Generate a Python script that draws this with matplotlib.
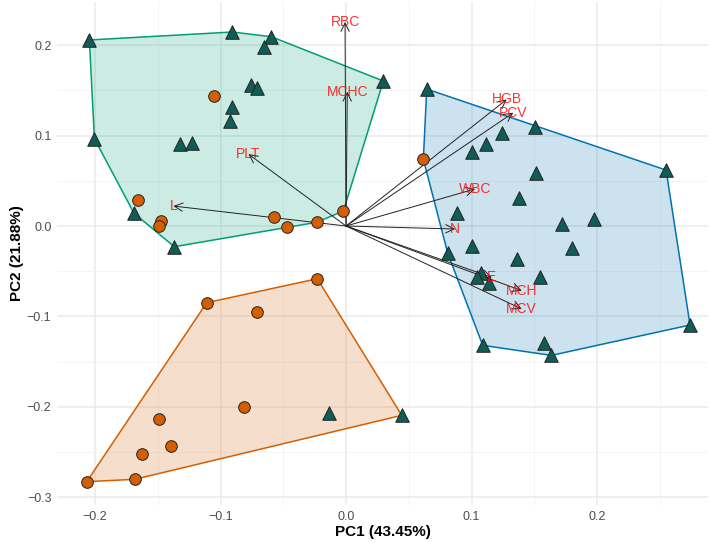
import numpy as np
import matplotlib.pyplot as plt

# PCA scores
pc1 = [-0.2045, -0.0906, -0.0595, -0.0651, 0.0297, -0.0755, -0.0712, -0.0908, -0.0927,
       -0.2005, -0.1320, -0.1225, -0.1689, -0.1368,
       -0.1054, -0.1660, -0.1472, -0.1493, -0.0571, -0.0473, -0.0234, -0.0021,
       0.0643, 0.1506, 0.1243, 0.1118, 0.1004, 0.1514, 0.2550, 0.1381, 0.0884, 0.1721,
       0.1976, 0.1800, 0.1007, 0.0810, 0.1363, 0.1078, 0.1041, 0.1139, 0.1546, 0.2741,
       0.1089, 0.1575, 0.1636,
       0.0616,
       -0.2066, -0.1684, -0.1628, -0.1392, -0.1493, -0.0813, -0.1110, -0.0707, -0.0229,
       -0.0135, 0.0444]
pc2 = [0.2058, 0.2146, 0.2094, 0.1983, 0.1604, 0.1563, 0.1527, 0.1313, 0.1165,
       0.0966, 0.0907, 0.0922, 0.0140, -0.0229,
       0.1435, 0.0284, 0.0059, 0.0000, 0.0103, -0.0011, 0.0041, 0.0166,
       0.1515, 0.1092, 0.1032, 0.0910, 0.0815, 0.0583, 0.0619, 0.0313, 0.0140, 0.0025,
       0.0081, -0.0247, -0.0218, -0.0299, -0.0369, -0.0520, -0.0568, -0.0627, -0.0561, -0.1095,
       -0.1320, -0.1291, -0.1431,
       0.0738,
       -0.2828, -0.2802, -0.2522, -0.2430, -0.2135, -0.1999, -0.0848, -0.0948, -0.0583,
       -0.2065, -0.2094]
group = (['tri'] * 14 + ['circ'] * 8 + ['tri'] * 23 + ['circ'] * 1
         + ['circ'] * 9 + ['tri'] * 2)
cluster = [1] * 22 + [2] * 24 + [3] * 11

# loadings (arrow tips)
var_names = ['RBC', 'MCHC', 'PLT', 'L', 'HGB', 'PCV', 'WBC', 'N', 'E', 'MCH', 'MCV']
load1 = [-0.0008, 0.0010, -0.0778, -0.1376, 0.1280, 0.1333, 0.1028, 0.0869, 0.1161, 0.1400, 0.1400]
load2 = [0.2257, 0.1486, 0.0796, 0.0221, 0.1400, 0.1254, 0.0410, -0.0033, -0.0568, -0.0715, -0.0918]

hull_colors = {1: '#009E73', 2: '#0072B2', 3: '#D55E00'}
point_style = {'tri': ('^', '#0F5D56', 95), 'circ': ('o', '#D55E00', 70)}

pc1 = np.array(pc1)
pc2 = np.array(pc2)
group = np.array(group)
cluster = np.array(cluster)


def convex_hull(pts):
    pts = sorted(map(tuple, pts))

    def cross(o, a, b):
        return (a[0] - o[0]) * (b[1] - o[1]) - (a[1] - o[1]) * (b[0] - o[0])
    lower, upper = [], []
    for p in pts:
        while len(lower) >= 2 and cross(lower[-2], lower[-1], p) <= 0:
            lower.pop()
        lower.append(p)
    for p in reversed(pts):
        while len(upper) >= 2 and cross(upper[-2], upper[-1], p) <= 0:
            upper.pop()
        upper.append(p)
    return np.array(lower[:-1] + upper[:-1])


plt.rcParams['font.family'] = ['Liberation Sans', 'DejaVu Sans']
fig = plt.figure(figsize=(7.1, 5.42), dpi=100)
ax = fig.add_axes([57 / 710, 37 / 542, 651 / 710, 503 / 542])

for c, col in hull_colors.items():
    m = cluster == c
    h = convex_hull(np.column_stack([pc1[m], pc2[m]]))
    ax.fill(h[:, 0], h[:, 1], facecolor=col, alpha=0.2, edgecolor='none', zorder=1)
    ax.fill(h[:, 0], h[:, 1], facecolor='none', edgecolor=col, linewidth=1.1, zorder=2)

for name, x, y in zip(var_names, load1, load2):
    ax.annotate('', xy=(x, y), xytext=(0, 0),
                arrowprops=dict(arrowstyle='->,head_length=0.6,head_width=0.3',
                                color='#222222', lw=0.7, shrinkA=0, shrinkB=0,
                                mutation_scale=10), zorder=3)

for g, (mk, col, s) in point_style.items():
    m = group == g
    ax.scatter(pc1[m], pc2[m], marker=mk, s=s, facecolor=col, edgecolor='#222222',
               linewidth=0.7, zorder=4)

for name, x, y in zip(var_names, load1, load2):
    ax.text(x, y, name, color='red', alpha=0.8, fontsize=10, ha='center', va='center', zorder=5)

ax.set_xticks([-0.2, -0.1, 0.0, 0.1, 0.2])
ax.set_yticks([-0.3, -0.2, -0.1, 0.0, 0.1, 0.2])
ax.set_xticks(np.arange(-0.25, 0.3, 0.1), minor=True)
ax.set_yticks(np.arange(-0.25, 0.25, 0.1), minor=True)
ax.set_xlim(-0.2303, 0.2884)
ax.set_ylim(-0.3086, 0.2478)
ax.grid(True, which='major', color='#EBEBEB', linewidth=1.1)
ax.grid(True, which='minor', color='#F2F2F2', linewidth=0.6)
ax.set_axisbelow(True)
for sp in ax.spines.values():
    sp.set_visible(False)
ax.tick_params(which='both', length=0, labelsize=9, labelcolor='#4D4D4D', pad=4)
ax.set_xlabel('PC1 (43.45%)', fontsize=11, fontweight='bold', labelpad=2)
ax.set_ylabel('PC2 (21.88%)', fontsize=11, fontweight='bold', labelpad=2)

fig.savefig('out.png', dpi=100)
